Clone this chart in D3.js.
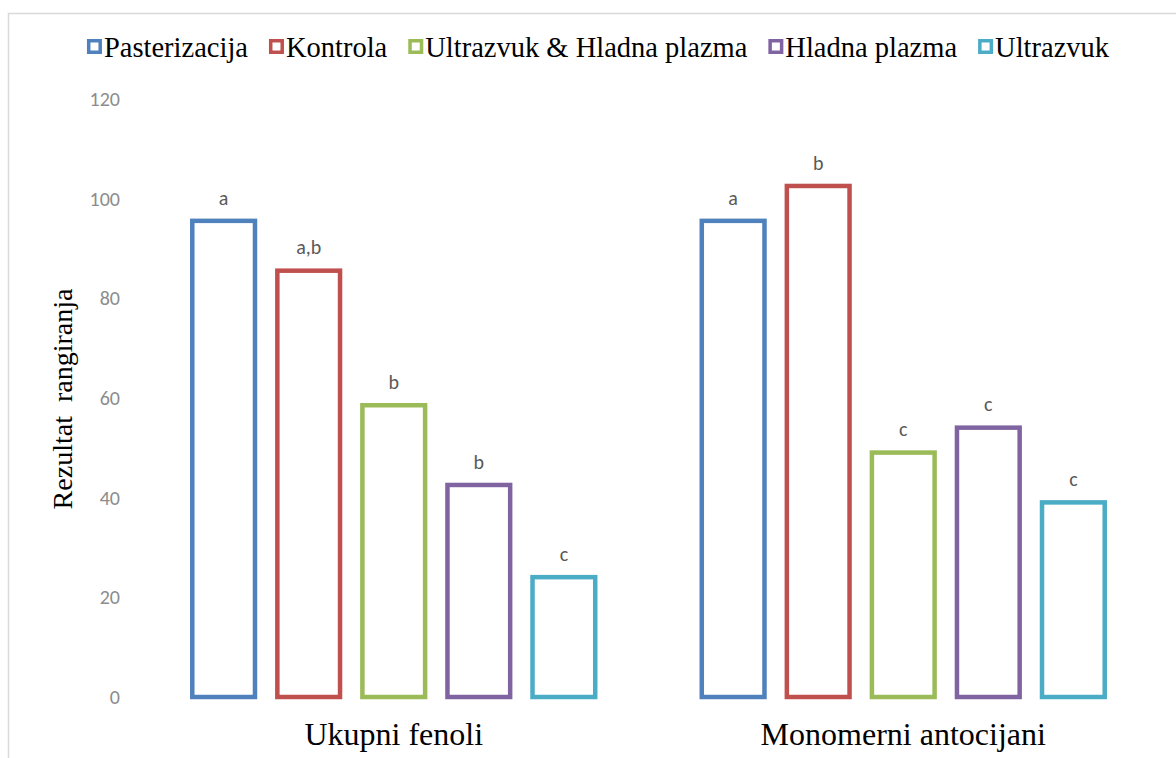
<!DOCTYPE html>
<html>
<head>
<meta charset="utf-8">
<script src="https://cdn.jsdelivr.net/npm/d3@7"></script>
<style>
  body { margin: 0; background: #fff; }
  svg { display: block; }
</style>
</head>
<body>
<div id="chart"></div>
<script>
// data
const categories = ["Ukupni fenoli", "Monomerni antocijani"];
const series = ["Pasterizacija", "Kontrola", "Ultrazvuk & Hladna plazma", "Hladna plazma", "Ultrazvuk"];
const colors = ["#4F81BD", "#C0504D", "#9BBB59", "#8064A2", "#4BACC6"];
const fenoliValues = [96, 86, 59, 43, 24.5];
const antocijaniValues = [96, 103, 49.5, 54.5, 39.5];
const fenoliLetters = ["a", "a,b", "b", "b", "c"];
const antocijaniLetters = ["a", "b", "c", "c", "c"];
const yTicks = [0, 20, 40, 60, 80, 100, 120];

const width = 1176;
const height = 758;
const sw = 4.5; // bar outline width
const serif = "'Liberation Serif', 'Times New Roman', serif";
const sans = "Carlito, Calibri, 'Open Sans', sans-serif";

const rows = [];
categories.forEach((cat, ci) => {
    const vals = ci === 0 ? fenoliValues : antocijaniValues;
    const lets = ci === 0 ? fenoliLetters : antocijaniLetters;
    series.forEach((s, si) => {
        rows.push({ cat, s, value: vals[si], letter: lets[si], color: colors[si] });
    });
});

const svg = d3.select("#chart")
    .append("svg")
    .attr("width", width)
    .attr("height", height);

// chart frame (only top and left edges show)
svg.append("path")
    .attr("d", "M8.5," + height + "V13.5H" + width)
    .attr("fill", "none")
    .attr("stroke", "#d9d9d9")
    .attr("stroke-width", 1.5);

const y = d3.scaleLinear().domain([0, 120]).range([697, 99]);

const x0 = d3.scaleBand()
    .domain(categories)
    .range([139, 1158]);

const x1 = d3.scaleBand()
    .domain(series)
    .range([0, x0.bandwidth()])
    .paddingInner(0.21)
    .paddingOuter(0.6);

// y tick labels (no axis line, no gridlines)
svg.append("g")
    .selectAll("text")
    .data(yTicks)
    .enter()
    .append("text")
    .attr("x", 120)
    .attr("y", d => y(d))
    .attr("dy", "0.35em")
    .attr("text-anchor", "end")
    .attr("font-family", sans)
    .attr("font-size", 20)
    .attr("fill", "#8c8c8c")
    .text(d => d);

// bars
svg.append("g")
    .selectAll("rect")
    .data(rows)
    .enter()
    .append("rect")
    .attr("x", d => x0(d.cat) + x1(d.s) + sw / 2)
    .attr("y", d => y(d.value) + sw / 2)
    .attr("width", x1.bandwidth() - sw)
    .attr("height", d => y(0) - y(d.value) - sw / 2)
    .attr("fill", "#fff")
    .attr("stroke", d => d.color)
    .attr("stroke-width", sw);

// significance letters
svg.append("g")
    .selectAll("text")
    .data(rows)
    .enter()
    .append("text")
    .attr("x", d => x0(d.cat) + x1(d.s) + x1.bandwidth() / 2)
    .attr("y", d => y(d.value) - 14)
    .attr("text-anchor", "middle")
    .attr("font-family", sans)
    .attr("font-size", 20)
    .attr("fill", "#595959")
    .text(d => d.letter);

// category labels
svg.append("g")
    .selectAll("text")
    .data(categories)
    .enter()
    .append("text")
    .attr("x", d => x0(d) + x0.bandwidth() / 2)
    .attr("y", 745)
    .attr("text-anchor", "middle")
    .attr("font-family", serif)
    .attr("font-size", 32)
    .attr("fill", "#000")
    .text(d => d);

// y axis title
svg.append("text")
    .attr("transform", "translate(72,399) rotate(-90)")
    .attr("text-anchor", "middle")
    .attr("xml:space", "preserve")
    .style("white-space", "pre")
    .attr("font-family", serif)
    .attr("font-size", 28)
    .attr("fill", "#000")
    .text("Rezultat  rangiranja");

// legend
const legend = svg.append("g").attr("class", "legend");
const items = legend.selectAll("g")
    .data(series)
    .enter()
    .append("g");

items.append("rect")
    .attr("x", 1.75)
    .attr("y", -7.25)
    .attr("width", 11.5)
    .attr("height", 11.5)
    .attr("fill", "#fff")
    .attr("stroke", (d, i) => colors[i])
    .attr("stroke-width", 3.5);

items.append("text")
    .attr("x", 17)
    .attr("y", 0)
    .attr("dy", "0.32em")
    .attr("font-family", serif)
    .attr("font-size", 28.5)
    .attr("fill", "#000")
    .text(d => d);

// position legend items using measured text widths
const gapLegend = 21;
let cursor = 0;
const offsets = [];
items.each(function() {
    const w = d3.select(this).select("text").node().getComputedTextLength() + 17;
    offsets.push(cursor);
    cursor += w + gapLegend;
});
const total = cursor - gapLegend;
const startX = 598 - total / 2;
items.attr("transform", (d, i) => "translate(" + (startX + offsets[i]) + ",48)");
</script>
</body>
</html>
